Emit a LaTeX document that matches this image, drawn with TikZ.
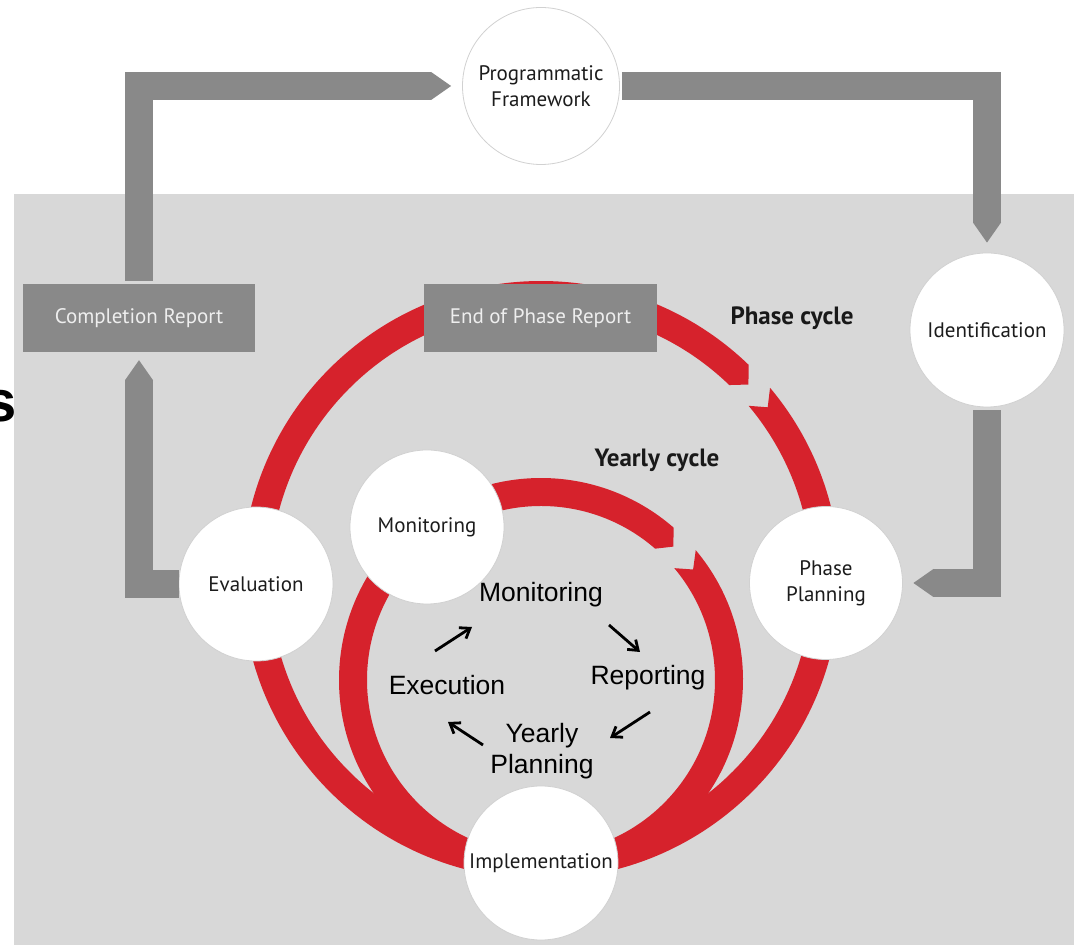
\documentclass[tikz,border=0pt]{standalone}
\usepackage{fontspec}
\setmainfont{PT Sans}
\newfontfamily\arialfont{Liberation Sans}
\usetikzlibrary{arrows.meta}
\definecolor{bggray}{RGB}{216,216,216}
\definecolor{bargray}{RGB}{137,137,137}
\definecolor{ringred}{RGB}{214,34,44}
\definecolor{labtext}{RGB}{28,28,28}
\definecolor{boxtext}{RGB}{238,238,238}
\begin{document}
\begin{tikzpicture}[x=1pt,y=1pt,
  stage/.style={circle, fill=white, draw=black!18, line width=0.8pt, minimum size=154pt, inner sep=0pt, align=center, text=labtext, font=\fontsize{21}{26}\selectfont},
  report/.style={rectangle, fill=bargray, minimum width=232pt, minimum height=68pt, inner sep=0pt, text=boxtext, font=\fontsize{21}{24}\selectfont},
  graybar/.style={draw=bargray, line width=28pt, -{Triangle[length=20pt,width=28pt,line width=0pt]}},
  cyclab/.style={font=\bfseries\fontsize{25}{28}\selectfont, text=black!90},
  innerlab/.style={font=\arialfont\fontsize{26.5}{31}\selectfont, align=center, text=black},
  smallarr/.style={line width=2.8pt, draw=black, -{Straight Barb[length=9pt,width=13pt]}}
]
\useasboundingbox (0,0) rectangle (1074,945);
\clip (0,0) rectangle (1074,945);
% backgrounds
\fill[white] (0,0) rectangle (1074,945);
\fill[bggray] (14,0) rectangle (1074,751);
% fragment of cut-off text at the left edge
\node[font=\arialfont\bfseries\fontsize{58}{60}\selectfont, anchor=base, inner sep=0pt] (sfrag) at (1,523) {s};
% phase cycle ring (outer)
\fill[ringred] ([shift={(541,365)}]40:299) arc[start angle=40, end angle=-314, radius=299]
  -- ([shift={(541,365)}]43.3:285) -- ([shift={(541,365)}]46:271)
  arc[start angle=46, end angle=400, radius=271]
  -- ([shift={(541,365)}]37.3:285) -- cycle;
% yearly cycle ring (inner)
\fill[ringred] ([shift={(541,265)}]40:202) arc[start angle=40, end angle=-311, radius=202]
  -- ([shift={(541,265)}]45.2:188) -- ([shift={(541,265)}]49:174)
  arc[start angle=49, end angle=400, radius=174]
  -- ([shift={(541,265)}]36:188) -- cycle;
% stage circles
\node[stage, minimum size=157pt] (pf) at (541,859) {Programmatic\\Framework};
\node[stage] (id) at (987,615) {Identification};
\node[stage, minimum size=153pt] (pp) at (826,362) {Phase\\Planning};
\node[stage] (ev) at (256,361) {Evaluation};
\node[stage] (mo) at (427,418) {Monitoring};
\node[stage] (im) at (541,82) {Implementation};
% report boxes
\node[report] (cr) at (139,627) {Completion Report};
\node[report, minimum width=233pt] (ep) at (540.5,627) {End of Phase Report};
% cycle labels
\node[cyclab] (pcl) at (792,627) {Phase cycle};
\node[cyclab] (ycl) at (657,485) {Yearly cycle};
% gray connectors
\draw[graybar, shorten <=3pt, shorten >=11pt] (cr.north) |- (pf.west);
\draw[graybar, shorten <=2pt, shorten >=10pt] (pf.east) -| (id.north);
\draw[graybar, shorten <=3pt, shorten >=10.5pt] (id.south) |- (pp.east);
\draw[graybar, shorten >=8pt] (ev.west) -| (cr.south);
% inner yearly activities
\node[innerlab] (mon2) at (541,350) {Monitoring};
\node[innerlab] (rep) at (648,267) {Reporting};
\node[innerlab] (exe) at (447,260) {Execution};
\node[innerlab] (yp) at (542,194) {Yearly\\Planning};
\coordinate (a1s) at (435,294); \coordinate (a1e) at (472,318);
\coordinate (a2s) at (609,320); \coordinate (a2e) at (640,293);
\coordinate (a3s) at (650,233); \coordinate (a3e) at (610,207);
\coordinate (a4s) at (483,200); \coordinate (a4e) at (448,223);
\draw[smallarr] (a1s) -- (a1e);
\draw[smallarr] (a2s) -- (a2e);
\draw[smallarr] (a3s) -- (a3e);
\draw[smallarr] (a4s) -- (a4e);
\end{tikzpicture}
\end{document}
